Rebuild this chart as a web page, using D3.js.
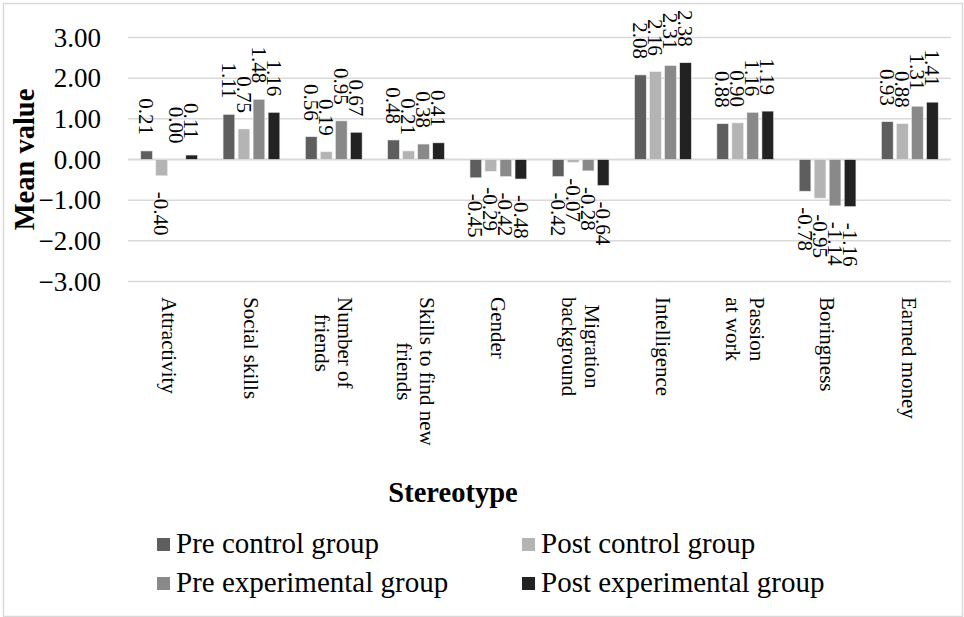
<!DOCTYPE html>
<html>
<head>
<meta charset="utf-8">
<script src="https://cdn.jsdelivr.net/npm/d3@7"></script>
<style>
  body { margin: 0; background: #fff; }
  svg { font-family: "Liberation Serif", "Times New Roman", serif; }
</style>
</head>
<body>
<script>
// Categories (line breaks as in the chart)
var categories = ["Attractivity", "Social skills", "Number of\nfriends", "Skills to find new\nfriends",
                  "Gender", "Migration\nbackground", "Intelligence", "Passion\nat work", "Boringness", "Earned money"];

var series = ["Pre control group", "Post control group", "Pre experimental group", "Post experimental group"];
var colors = ["#5e5e5e", "#b4b4b4", "#898989", "#222222"];

// Mean values per series
var preControl  = [0.21, 1.11, 0.56, 0.48, -0.45, -0.42, 2.08, 0.88, -0.78, 0.93];
var postControl = [-0.40, 0.75, 0.19, 0.21, -0.29, -0.07, 2.16, 0.90, -0.95, 0.88];
var preExp      = [0.00, 1.48, 0.95, 0.38, -0.42, -0.28, 2.31, 1.16, -1.14, 1.31];
var postExp     = [0.11, 1.16, 0.67, 0.41, -0.48, -0.64, 2.38, 1.19, -1.16, 1.41];

var yTicks = [-3, -2, -1, 0, 1, 2, 3];

var values = [preControl, postControl, preExp, postExp];

var width = 964, height = 617;
var plot = {left: 128, right: 951, top: 37.5, bottom: 281.5};

var svg = d3.select("body").append("svg")
    .attr("width", width)
    .attr("height", height);

// Chart border
svg.append("rect")
    .attr("x", 3.5).attr("y", 3.5)
    .attr("width", 959).attr("height", 613)
    .attr("fill", "#fff")
    .attr("stroke", "#d9d9d9")
    .attr("stroke-width", 1.5);

var x0 = d3.scaleBand().domain(d3.range(categories.length)).range([plot.left, plot.right]);
var x1 = d3.scaleBand().domain(d3.range(series.length)).range([0, x0.bandwidth()])
    .paddingInner(0.22).paddingOuter(0.85);
var y = d3.scaleLinear().domain([-3, 3]).range([plot.bottom, plot.top]);

// Gridlines
svg.append("g").selectAll("line")
    .data(yTicks)
    .enter().append("line")
    .attr("x1", plot.left).attr("x2", plot.right)
    .attr("y1", function(d) { return y(d); })
    .attr("y2", function(d) { return y(d); })
    .attr("stroke", "#d9d9d9")
    .attr("stroke-width", function(d) { return d == 0 ? 2 : 1.5; });

// Y axis (labels only)
var yAxis = d3.axisLeft(y).tickValues(yTicks).tickFormat(d3.format(".2f")).tickSize(0).tickPadding(0);
var yg = svg.append("g")
    .attr("transform", "translate(101,0)")
    .call(yAxis);
yg.select(".domain").remove();
yg.selectAll("text")
    .attr("font-family", "Liberation Serif, Times New Roman, serif")
    .attr("font-size", 27)
    .attr("fill", "#000");

// Bars
var rows = [];
values.forEach(function(vals, s) {
  vals.forEach(function(v, c) { rows.push({s: s, c: c, v: v}); });
});

svg.append("g").selectAll("rect")
    .data(rows)
    .enter().append("rect")
    .attr("x", function(d) { return x0(d.c) + x1(d.s); })
    .attr("width", x1.bandwidth())
    .attr("y", function(d) { return y(Math.max(0, d.v)); })
    .attr("height", function(d) { return Math.abs(y(d.v) - y(0)); })
    .attr("fill", function(d) { return colors[d.s]; })
    .attr("stroke", "#ececec")
    .attr("stroke-width", 0.6);

// Data labels, rotated
svg.append("g").selectAll("text")
    .data(rows)
    .enter().append("text")
    .attr("transform", function(d) {
      var cx = x0(d.c) + x1(d.s) + x1.bandwidth() / 2;
      var ty = d.v >= 0 ? y(d.v) - 16 : y(d.v) + 16;
      return "translate(" + cx + "," + ty + ") rotate(90)";
    })
    .attr("text-anchor", function(d) { return d.v >= 0 ? "end" : "start"; })
    .attr("dy", "0.35em")
    .attr("font-size", 21)
    .text(function(d) { return d.v.toFixed(2); });

// Category labels, rotated, top aligned
var catTop = 297;
categories.forEach(function(name, c) {
  var lines = name.split("\n");
  var g = svg.append("g");
  var texts = lines.map(function(line, i) {
    return g.append("text")
      .attr("font-size", 21)
      .attr("text-anchor", "middle")
      .attr("dy", "0.35em")
      .text(line);
  });
  var maxW = d3.max(texts, function(t) { return t.node().getComputedTextLength(); });
  var lh = 23.5;
  var cx = x0(c) + x0.bandwidth() / 2;
  texts.forEach(function(t, i) {
    var off = (i - (lines.length - 1) / 2) * lh;
    t.attr("transform", "translate(" + (cx - off) + "," + (catTop + maxW / 2) + ") rotate(90)");
  });
});

// Axis titles
svg.append("text")
    .attr("transform", "translate(24," + ((plot.top + plot.bottom) / 2) + ") rotate(-90)")
    .attr("text-anchor", "middle")
    .attr("dy", "0.35em")
    .attr("font-size", 28.5)
    .attr("font-weight", "bold")
    .text("Mean value");

svg.append("text")
    .attr("x", 453)
    .attr("y", 502)
    .attr("text-anchor", "middle")
    .attr("font-size", 28.5)
    .attr("font-weight", "bold")
    .text("Stereotype");

// Legend
var legendPos = [[157, 538], [522, 538], [157, 577], [522, 577]];
var legend = svg.append("g").selectAll("g")
    .data(series)
    .enter().append("g")
    .attr("transform", function(d, i) { return "translate(" + legendPos[i][0] + "," + legendPos[i][1] + ")"; });

legend.append("rect")
    .attr("width", 13).attr("height", 13)
    .attr("fill", function(d, i) { return colors[i]; });

legend.append("text")
    .attr("x", 19)
    .attr("y", 15)
    .attr("font-size", 29)
    .text(function(d) { return d; });
</script>
</body>
</html>
